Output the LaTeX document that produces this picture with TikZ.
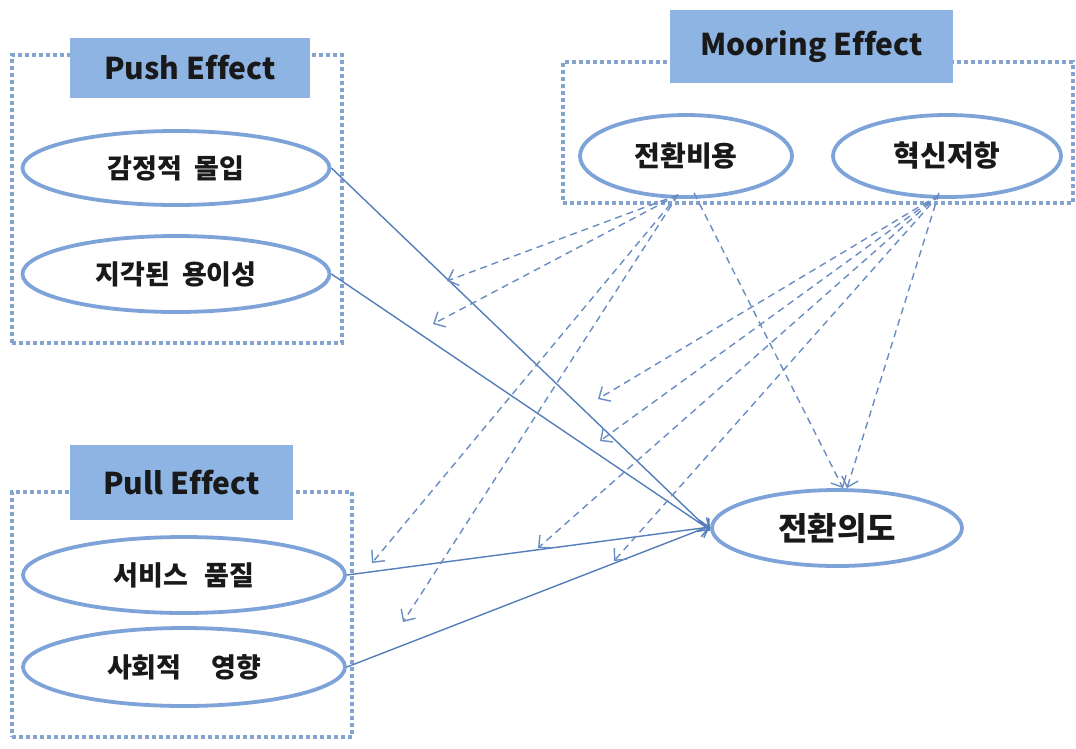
\documentclass[tikz,border=0pt]{standalone}
\usepackage{fontspec}
\setmainfont{Noto Sans CJK KR}[Ligatures=NoCommon]
\usetikzlibrary{arrows.meta,shapes.geometric,calc}
\definecolor{lblfill}{RGB}{141,180,226}
\definecolor{dotc}{RGB}{132,163,207}
\definecolor{ellc}{RGB}{126,163,216}
\definecolor{arrc}{RGB}{84,126,186}
\definecolor{dashc}{RGB}{105,140,194}
\tikzset{
  grp/.style={draw=dotc, line width=4pt, dash pattern=on 4pt off 3pt, rectangle, inner sep=0pt},
  lbl/.style={fill=lblfill, rectangle, inner sep=0pt, font=\bfseries\fontsize{30}{34}\selectfont, text=black!90},
  ell/.style={ellipse, draw=ellc, line width=3.8pt, fill=white, inner sep=0pt, font=\bfseries\fontsize{27}{30}\selectfont, text=black!90},
  solidarr/.style={draw=arrc, line width=1.4pt, -{Straight Barb[length=9pt,width=17pt]}},
  dasharr/.style={draw=dashc, line width=1.4pt, dash pattern=on 7pt off 5pt, -{Straight Barb[length=9pt,width=17pt]}},
}
\begin{document}
\begin{tikzpicture}[x=1pt,y=-1pt]
\useasboundingbox (0,0) rectangle (1076,748);
% group boxes
\node (pushbox) [grp, minimum width=330pt, minimum height=288pt] at (177,199) {};
\node (pullbox) [grp, minimum width=340pt, minimum height=245pt] at (182,614.5) {};
\node (moorbox) [grp, minimum width=510pt, minimum height=141pt] at (818,132.5) {};
% labels
\node (pushlbl) [lbl, minimum width=240pt, minimum height=60pt] at (190,68) {Push Effect};
\node (pulllbl) [lbl, minimum width=223pt, minimum height=75pt] at (181.5,482.5) {Pull Effect};
\node (moorlbl) [lbl, minimum width=283pt, minimum height=73pt] at (811.5,46.5) {Mooring Effect};
% ellipses
\node (e1) [ell, minimum width=307pt, minimum height=74pt] at (176,168) {감정적\hspace{0.45em}몰입};
\node (e2) [ell, minimum width=307pt, minimum height=76pt] at (176,274) {지각된\hspace{0.45em}용이성};
\node (e3) [ell, minimum width=322pt, minimum height=76pt] at (184,575) {서비스\hspace{0.6em}품질};
\node (e4) [ell, minimum width=322pt, minimum height=78pt] at (184,667) {사회적\hspace{1.1em}영향};
\node (dv) [ell, minimum width=250pt, minimum height=76pt, font=\bfseries\fontsize{32}{36}\selectfont] at (837,528) {전환의도};
\node (sc) [ell, minimum width=212pt, minimum height=82pt, font=\bfseries\fontsize{28}{32}\selectfont] at (686,156) {전환비용};
\node (ir) [ell, minimum width=228pt, minimum height=82pt, font=\bfseries\fontsize{29}{32}\selectfont] at (947,156) {혁신저항};
% moderation targets
\coordinate (m1) at (447,281);
\coordinate (m2) at (433,324);
\coordinate (m3) at (372,563);
\coordinate (m4) at (403,622);
\coordinate (n1) at (598,399);
\coordinate (n2) at (600,441);
\coordinate (n3) at (538,548);
\coordinate (n4) at (614,561);
% solid paths
\draw[solidarr] (e1.east) -- ([yshift=-3pt]dv.west);
\draw[solidarr] (e2.east) -- ([yshift=-2pt]dv.west);
\draw[solidarr] (e3.east) -- ([yshift=1pt]dv.west);
\draw[solidarr] (e4.east) -- ([yshift=2pt]dv.west);
% dashed moderation paths
\draw[dasharr] ([shift={(-8pt,4pt)}]sc.south) -- (m1);
\draw[dasharr] ([shift={(-8pt,4pt)}]sc.south) -- (m2);
\draw[dasharr] ([shift={(-8pt,4pt)}]sc.south) -- (m3);
\draw[dasharr] ([shift={(-8pt,4pt)}]sc.south) -- (m4);
\draw[dasharr] ([shift={(8pt,6pt)}]sc.south) -- ([xshift=6pt]dv.north);
\draw[dasharr] ([shift={(-8pt,4pt)}]ir.south) -- (n1);
\draw[dasharr] ([shift={(-8pt,4pt)}]ir.south) -- (n2);
\draw[dasharr] ([shift={(-8pt,4pt)}]ir.south) -- (n3);
\draw[dasharr] ([shift={(-8pt,4pt)}]ir.south) -- (n4);
\draw[dasharr] ([shift={(-8pt,6pt)}]ir.south) -- ([xshift=10pt]dv.north);
\end{tikzpicture}
\end{document}
